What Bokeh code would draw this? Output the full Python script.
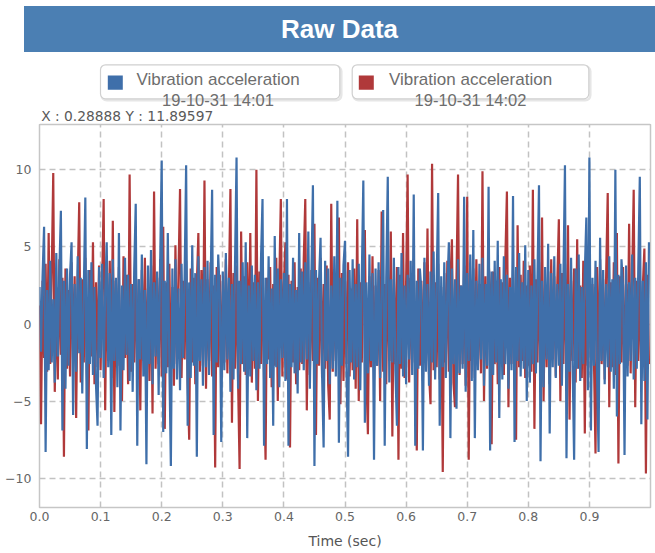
from bokeh.plotting import figure
from bokeh.models import Range1d, FixedTicker, NumeralTickFormatter, Div, Quad
from bokeh.layouts import column
from bokeh.core.properties import value
from bokeh.embed import file_html
from bokeh.resources import INLINE

# ---------------- data ----------------
title_text = "Raw Data"
series_names = ["Vibration acceleration", "Vibration acceleration"]
series_times = ["19-10-31 14:01", "19-10-31 14:02"]
series_colors = ["#3f6faa", "#b0393a"]
cursor_text = "X : 0.28888 Y : 11.89597"
x_axis_title = "Time (sec)"
x_ticks = [0.0, 0.1, 0.2, 0.3, 0.4, 0.5, 0.6, 0.7, 0.8, 0.9]
y_ticks = [-10, -5, 0, 5, 10]
sample_interval = 0.0025  # sec

vib_1401 = [
    2.4, -1.8, 3.1, 6.3, -8.3, 2.2, -3.0, 4.1, -2.5, 1.6, -3.8, 4.6, -2.1, 3.4, 7.35, -6.9, 2.8, -4.2, 3.6, -2.7,
    3.2, 5.3, -5.9, 2.6, -3.1, 4.4, -1.9, 3.0, -4.5, 2.1, 8.2, -8.1, 3.5, -2.6, 4.0, -3.3, 2.4, -4.0, -6.6, 3.7,
    -2.2, 3.9, -3.5, 2.0, 5.3, -2.8, 3.3, -7.2, 4.2, -2.4, 3.0, -4.1, 5.9, -6.9, 2.5, -3.0, 4.3, -2.0, 3.2, -3.7,
    2.6, -4.4, 3.5, 7.8, -7.9, 2.9, -2.3, 4.5, -3.4, 2.2, -9.1, 3.8, -2.6, 4.8, -3.9, 2.7, -2.1, 3.4, -4.6, 4.0,
    10.6, -7.0, 2.8, -3.2, 5.9, -2.5, -9.2, 3.6, -2.9, 4.2, -3.6, 2.3, -4.3, 3.9, -2.2, 3.1, 10.3, -6.6, 2.7, -3.5,
    5.1, -2.7, 3.3, -8.6, 4.4, -2.4, 2.9, -4.0, 3.7, -2.8, 4.1, -3.3, 2.4, 8.7, -7.2, 3.2, -2.5, 4.5, 2.0, -7.65,
    3.4, -3.0, 4.6, -2.3, 3.0, -4.4, 2.6, -3.6, 3.9, 10.8, -4.2, 2.8, -2.6, 4.0, -3.1, 5.3, -7.4, 2.5, -3.4, 3.8,
    -2.4, 3.2, -4.3, 2.7, -2.9, 4.2, 8.1, -7.9, 3.0, -2.6, 4.4, -3.5, 2.3, -6.6, 5.7, -2.8, 3.6, -4.1, 2.9, -2.2,
    3.3, -3.7, 8.1, -7.9, 2.6, -2.8, 4.3, -3.2, 2.2, -4.5, 5.9, -2.5, 3.4, -3.0, 4.0, -2.3, 6.0, -4.2, 3.1, 9.0,
    -9.2, 3.5, -2.6, 2.8, 5.6, -3.3, -8.0, 4.1, -2.4, 3.6, -3.9, 2.5, -2.9, 4.4, -3.4, 8.0, -7.7, 3.0, -2.7, 3.8,
    5.4, -3.1, -8.6, 3.5, -2.5, 4.2, -3.6, 2.6, -2.8, 3.9, -4.3, 3.1, 9.3, -6.4, 2.7, -3.2, 4.5, -2.4, 3.3, -8.8,
    3.6, -2.7, 4.0, -3.5, 2.4, 7.4, -7.9, 3.0, 9.55, -3.8, 2.9, -2.5, 4.3, -3.0, -6.6, 3.7, -2.6, 4.6, -3.4, 2.5,
    -3.9, 3.2, -2.3, 4.1, -3.3, 8.4, -7.9, 2.8, -2.9, 3.6, 2.2, -8.2, 4.3, -3.1, 2.6, -4.0, 3.4, -2.5, 4.7, -3.6,
    2.7, 8.5, -6.6, 3.1, -2.8, 4.0, -3.5, 2.3, 5.3, -7.4, 3.6, -2.6, 2.9, -5.5, 4.2, -3.2, 2.5, -2.9, 8.25, -4.4,
    3.3, -2.4, 4.5, -3.7, 6.1, -7.4, 2.8, -3.0, 3.9, -2.3, 4.3, -4.0, 2.6, -2.7, 8.9, -8.2, 3.4, -3.3, 4.1, -2.5,
    5.4, -6.1, 2.9, -3.6, 4.4, -2.6, 3.2, -4.2, 2.4, -3.0, 8.3, -7.65, 3.7, -2.4, 4.6, -3.4, 2.7, -2.9, 5.1, -5.0,
    3.5, -3.8, 2.5, -2.6, 4.2, -3.2, 3.0, 9.0, -8.9, 2.8, -4.1, 3.7, -2.3, 5.2, -7.1, 3.3, -2.8, 4.4, -3.5, 2.6,
    -2.7, 3.9, -4.0, 3.1, 10.3, -8.7, 2.6, -3.1, 4.3, -2.5, -8.8, 3.6, -2.9, 4.5, -3.7, 2.4, -2.6, 3.4, 6.9, -4.3,
    10.8, -6.9, 3.0, -2.7, 4.1, -3.3, -8.3, 5.6, -2.4, 3.5, -3.9, 2.6, -2.8, 4.4, -3.1, 2.9, -4.2, 10.0, -6.0, 3.2,
    -2.6, 4.2, 2.5, -8.5, 3.8, -3.4, 2.7, -2.4, 4.5, -3.6, 3.0, -2.9, 3.6, 9.55, -6.5, 2.8, -3.7, 4.0, -6.2, 5.3,
]

vib_1402 = [
    1.2, -6.5, 2.8, -2.2, 3.9, -3.1, 5.9, -2.6, 3.3, 9.8, -4.4, 2.4, -3.6, 4.2, -2.0, 3.0, -8.6, 3.6, -2.9, 2.2,
    -3.4, 4.0, -2.3, 3.1, -6.1, 2.6, 7.9, -3.8, 2.9, -2.5, 4.3, -3.2, -6.9, 3.5, -2.1, 5.3, -3.9, 2.7, -2.8, 3.8,
    -3.0, 2.5, 8.1, -5.6, 3.4, -2.4, 4.1, -3.5, 6.7, -5.7, 2.8, -2.7, 3.7, -3.3, -5.0, 4.4, -2.2, 3.2, -3.9, 9.7,
    -3.1, 2.6, -2.5, 4.0, -3.6, 2.9, -5.6, 3.5, -2.4, 4.3, -3.0, 2.3, -3.7, 3.8, -5.8, 8.6, -2.9, 3.0, -2.6, 4.2,
    -3.4, 6.3, -6.8, 2.7, -2.8, 3.9, -3.3, 2.4, -4.0, 5.1, -2.6, 3.3, 8.75, -3.5, 2.8, -2.3, 4.1, -3.7, -7.5, 3.6,
    -2.5, 3.0, -3.9, 2.6, 5.9, -3.1, 3.5, -2.7, 9.3, -4.2, 2.9, -2.4, 4.0, -3.4, 2.5, -9.3, 3.7, -2.8, 3.2, -3.6,
    2.8, -2.5, 4.2, -3.2, 2.4, 8.75, -6.4, 3.3, -2.9, 3.8, -3.7, -9.4, 6.0, -2.6, 3.1, -3.3, 4.0, -2.2, 5.9, -3.8,
    2.7, -2.9, 10.0, -5.0, 3.4, -2.6, 4.1, -3.5, -8.8, 3.0, -2.3, 3.7, -4.1, 2.6, -2.7, 4.3, -5.0, 2.9, 8.1, -3.4,
    2.5, 5.3, -3.6, 3.2, -8.0, 2.8, -2.5, 4.0, -3.9, 2.4, -3.0, 3.6, -2.6, 4.2, 8.1, -5.6, 2.7, -3.3, 3.5, -2.4,
    6.5, -7.2, 3.0, -2.7, 4.3, -3.5, 2.6, -2.9, 3.8, -4.0, -6.2, 7.8, -3.1, 2.5, -2.4, 4.1, 6.9, -5.2, 3.3, -3.7,
    2.8, -2.6, 4.0, -3.4, 2.3, -3.0, 3.6, -4.2, 6.8, -5.0, 2.7, -2.5, 3.9, 6.1, -3.3, -7.15, 3.1, -2.8, 4.4, -3.6,
    2.5, -2.7, 3.5, -5.0, 7.3, -3.1, 2.6, -3.9, 4.1, -2.4, 6.0, -7.3, 2.9, -2.6, 3.7, -8.8, 3.2, -2.9, 5.9, -3.5,
    2.6, 9.7, -3.8, 3.0, -2.5, 4.2, -3.4, -8.2, 3.6, -2.7, 2.8, -3.7, 4.0, -2.4, 6.2, -3.2, -5.2, 10.4, -3.0, 2.7,
    -2.8, 3.9, -3.6, 2.4, -9.6, 3.3, -2.5, 4.1, -3.1, 2.7, 5.5, -3.8, -5.4, 3.0, 9.7, -3.3, 2.5, -2.6, 3.8, -4.0,
    8.25, -8.8, 2.9, -2.4, 3.6, -3.5, 4.2, -2.7, 2.6, -3.2, 9.9, -5.0, 3.1, -2.9, 4.0, 2.3, -7.8, 3.4, -2.6, 2.8,
    -3.9, 3.7, -2.5, 2.7, -3.3, 4.3, 8.6, -5.4, 3.0, -2.6, 3.5, -3.7, -7.5, 6.4, -2.8, 3.2, -2.4, 4.1, -3.5, 2.5,
    -2.7, 3.8, -3.1, 8.7, -6.8, 2.9, -2.5, 4.0, -3.6, 6.9, -5.0, 2.6, -2.8, 3.4, -3.9, 4.2, -2.3, 3.1, -3.4, 2.7,
    6.8, -5.0, 3.3, -2.6, 3.9, -3.2, 6.4, -6.2, 2.8, -2.4, 3.6, -3.8, 5.5, -2.9, 2.5, -3.5, 4.1, -7.1, 3.0, -2.7,
    5.3, -3.3, 2.6, -2.5, -8.4, 3.7, -3.0, 4.2, -2.6, 2.9, -3.6, 3.4, 8.5, -5.4, 2.7, -2.8, 4.0, -3.3, 5.9, -9.05,
    3.1, -2.5, 3.7, -3.9, 2.6, -2.7, 6.5, -3.2, 3.0, 8.7, -5.4, 2.8, -2.4, 3.8, -3.5, 2.5, 4.9, -9.7, 3.2, -2.6,
]

time_1401 = [i * sample_interval for i in range(len(vib_1401))]
time_1402 = [i * sample_interval for i in range(len(vib_1402))]

# ---------------- layout constants (page pixels, page starts at 0,0) ----------------
W = 655            # canvas width of figures
BL, BR = 39, 5     # shared left / right borders -> frame spans page x 39..650
FX0, FX1 = BL, W - BR
TITLE_TOP, TITLE_H, TITLE_LEFT = 6, 46, 24   # page y 6..52, x 24..655
LEG_Y0, LEG_Y1 = 52, 124                     # legend strip; plot frame starts at 124
MAIN_H = 428       # page y 124..552, frame 124..507
FRAME_COLOR = "#c6c6c6"
tick_font = "DejaVu Sans"
legend_font = "Liberation Sans"

# ---- title bar (html block) ----
title_div = Div(
    text=title_text, width=W - TITLE_LEFT, height=TITLE_H,
    margin=(TITLE_TOP, 0, 0, TITLE_LEFT),
    styles={"background-color": "#4b7fb3", "color": "white",
            "font-family": "Liberation Sans, Arial, sans-serif",
            "font-weight": "bold", "font-size": "26px",
            "text-align": "center", "line-height": "%dpx" % TITLE_H},
)

# ---- legend strip (drawn in page-pixel coordinates) ----
lf = figure(width=W, height=LEG_Y1 - LEG_Y0,
            x_range=Range1d(FX0, FX1), y_range=Range1d(LEG_Y1, LEG_Y0),
            toolbar_location=None, output_backend="svg",
            x_axis_location=None, y_axis_location=None,
            min_border_left=BL, min_border_right=BR,
            min_border_top=0, min_border_bottom=0,
            outline_line_color=None, border_fill_color="white",
            background_fill_color="white")
lf.grid.visible = False

round_kw = {"border_radius": 5} if "border_radius" in Quad.properties() else {}
box_left = [100.0, 351.7]
box_right = [339.3, 588.3]
box_top, box_bottom = 64.3, 98.3
lf.quad(left=[b + 1.2 for b in box_left], right=[b + 1.5 for b in box_right],
        top=[box_top + 1.5] * 2, bottom=[box_bottom + 1.5] * 2,
        fill_color=None, line_color="#e6e6e6", line_width=2.5, **round_kw)
lf.quad(left=box_left, right=box_right, top=[box_top] * 2, bottom=[box_bottom] * 2,
        fill_color="white", line_color="#d0d0d0", line_width=1.2, **round_kw)
lf.rect(x=[114.8, 365.8], y=[82.2, 82.2], width=15, height=14.3,
        fill_color=series_colors, line_color=None)
text_cx = [217.5, 470.0]
lf.text(x=text_cx, y=[79, 79], text=series_names, text_align="center",
        text_baseline="alphabetic", text_color="#6d6d6d",
        text_font=value(legend_font), text_font_size="17px")
lf.text(x=text_cx, y=[99.3, 99.3], text=series_times, text_align="center",
        text_baseline="alphabetic", text_color="#6d6d6d",
        text_font=value(legend_font), text_font_size="16.5px")
lf.text(x=[40.7], y=[115.5], text=[cursor_text], text_align="left",
        text_baseline="alphabetic", text_color="#5a5a5a",
        text_font=value(tick_font), text_font_size="13.8px")
# upper half of the plot frame's top edge (the lower half is drawn by the plot)
lf.segment(x0=[FX0], y0=[LEG_Y1], x1=[FX1], y1=[LEG_Y1],
           line_color=FRAME_COLOR, line_width=1.5)

# ---- main chart ----
p = figure(width=W, height=MAIN_H, x_range=Range1d(0, 1.0), y_range=Range1d(-11.9, 12.94),
           toolbar_location=None, output_backend="svg",
           min_border_left=BL, min_border_right=BR,
           min_border_top=0, min_border_bottom=45,
           background_fill_color="white", border_fill_color="white",
           outline_line_color=FRAME_COLOR, outline_line_width=1.5)

p.line(time_1402, vib_1402, line_color=series_colors[1], line_width=2.2)
p.line(time_1401, vib_1401, line_color=series_colors[0], line_width=2.2)

xt = FixedTicker(ticks=x_ticks)
yt = FixedTicker(ticks=y_ticks)
p.xaxis.ticker = xt
p.yaxis.ticker = yt
p.xgrid.ticker = xt
p.ygrid.ticker = yt
p.xaxis.formatter = NumeralTickFormatter(format="0.0")

for g in (p.xgrid, p.ygrid):
    g.grid_line_color = "#c2c2c2"
    g.grid_line_width = 1.5
    g.grid_line_dash = "6 4"

for ax in (p.xaxis, p.yaxis):
    ax.axis_line_color = None
    ax.major_tick_line_color = None
    ax.minor_tick_line_color = None
    ax.major_tick_out = 0
    ax.major_tick_in = 0
    ax.minor_tick_out = 0
    ax.minor_tick_in = 0
    ax.major_label_text_font = tick_font
    ax.major_label_text_font_size = "12.5px"
    ax.major_label_text_color = "#666666"

p.xaxis.major_label_standoff = 4
p.yaxis.major_label_standoff = 8
p.xaxis.axis_label = x_axis_title
p.xaxis.axis_label_standoff = 9
p.xaxis.axis_label_text_font = tick_font
p.xaxis.axis_label_text_font_size = "14px"
p.xaxis.axis_label_text_font_style = "normal"
p.xaxis.axis_label_text_color = "#555555"

layout = column(title_div, lf, p, spacing=0)

open("out.html", "w").write(file_html(layout, INLINE))
